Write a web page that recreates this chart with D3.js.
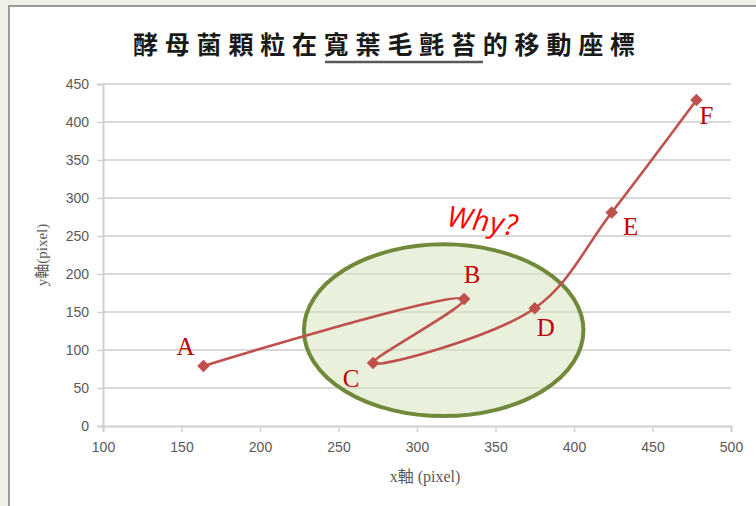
<!DOCTYPE html>
<html lang='zh-Hant'>
	<head>
		<meta charset='utf-8'>
		<title>酵母菌顆粒在寬葉毛氈苔的移動座標</title>
		<script type='text/javascript' src='https://cdn.jsdelivr.net/npm/d3@7/dist/d3.min.js'></script>
		<style>
			body { margin: 0; background: #eff1e9; }
			svg { display: block; }
		</style>
	</head>
	<body>
		<script type='text/javascript'>
		// data
		var point_names = ['A', 'B', 'C', 'D', 'E', 'F'];
		var x_values = [164, 330, 272, 375, 424, 478];
		var y_values = [79, 167, 83, 155, 281, 429];
		var x_ticks = [100, 150, 200, 250, 300, 350, 400, 450, 500];
		var y_ticks = [0, 50, 100, 150, 200, 250, 300, 350, 400, 450];
		// annotation ellipse in data units: centre x, centre y, half width, half height
		var ellipse_data = [317, 126, 89, 113];

		{
			var width = 756, height = 506;
			var svg_elem = d3.select('body').append('svg').attr('width', width).attr('height', height);

			// white chart panel with grey edge
			svg_elem.append('rect')
				.attr('x', 9).attr('y', 6).attr('width', width).attr('height', height)
				.attr('fill', '#ffffff').attr('stroke', '#9a9a9a').attr('stroke-width', 2);

			var x_scale = d3.scaleLinear().domain([100, 500]).range([103, 731]);
			var y_scale = d3.scaleLinear().domain([0, 450]).range([426, 84]);

			// gridlines
			svg_elem.append('g').selectAll('line').data(y_ticks.slice(1)).enter().append('line')
				.attr('x1', x_scale(100)).attr('x2', x_scale(500))
				.attr('y1', d => y_scale(d)).attr('y2', d => y_scale(d))
				.attr('stroke', '#d9d9d9').attr('stroke-width', 2);

			// left axis
			var left_axis = svg_elem.append('g')
				.attr('transform', 'translate(' + x_scale(100) + ',0)')
				.call(d3.axisLeft(y_scale).tickValues(y_ticks).tickSize(6).tickPadding(8));
			// bottom axis
			var bottom_axis = svg_elem.append('g')
				.attr('transform', 'translate(0,' + y_scale(0) + ')')
				.call(d3.axisBottom(x_scale).tickValues(x_ticks).tickSize(6).tickPadding(10));

			[left_axis, bottom_axis].forEach(function(ax) {
				ax.selectAll('path').attr('stroke', '#d0d0d0').attr('stroke-width', 2);
				ax.selectAll('line').attr('stroke', '#d0d0d0').attr('stroke-width', 1.5);
				ax.selectAll('text')
					.attr('fill', '#595959')
					.style('font-family', '"Liberation Sans Narrow", "Liberation Sans", sans-serif')
					.style('font-size', '14px');
			});

			// annotation ellipse
			svg_elem.append('ellipse')
				.attr('cx', x_scale(ellipse_data[0])).attr('cy', y_scale(ellipse_data[1]))
				.attr('rx', x_scale(100 + ellipse_data[2]) - x_scale(100))
				.attr('ry', y_scale(0) - y_scale(ellipse_data[3]))
				.attr('fill', '#d7e4bd').attr('fill-opacity', 0.55)
				.attr('stroke', '#71893a').attr('stroke-width', 4);

			var points = x_values.map((v, i) => [v, y_values[i]]);

			// smoothed series line
			var line = d3.line()
				.x(d => x_scale(d[0])).y(d => y_scale(d[1]))
				.curve(d3.curveCatmullRom.alpha(0.5));
			svg_elem.append('path')
				.attr('d', line(points))
				.attr('fill', 'none')
				.attr('stroke', '#c0504d')
				.attr('stroke-width', 2.6);

			// diamond markers
			svg_elem.append('g').selectAll('path').data(points).enter().append('path')
				.attr('d', d3.symbol().type(d3.symbolDiamond2).size(100))
				.attr('transform', d => 'translate(' + x_scale(d[0]) + ',' + y_scale(d[1]) + ')')
				.attr('fill', '#c0504d');

			// point letters
			var label_offsets = [[-18, -11], [8, -16], [-22, 24], [11, 28], [19, 23], [10, 24]];
			svg_elem.append('g').selectAll('text').data(points).enter().append('text')
				.attr('x', (d, i) => x_scale(d[0]) + label_offsets[i][0])
				.attr('y', (d, i) => y_scale(d[1]) + label_offsets[i][1])
				.attr('text-anchor', 'middle')
				.attr('fill', '#c00000')
				.style('font-family', '"Liberation Serif", "DejaVu Serif", serif')
				.style('font-size', '25px')
				.text((d, i) => point_names[i]);

			// Why? note
			svg_elem.append('text')
				.attr('transform', 'translate(446,226) rotate(8)')
				.attr('fill', '#ff0000')
				.style('font-family', '"Open Sans", "Liberation Sans", sans-serif')
				.style('font-style', 'italic')
				.style('font-size', '29px')
				.style('letter-spacing', '1px')
				.text('Why?');

			// title
			svg_elem.append('text')
				.attr('x', 133).attr('y', 54)
				.attr('fill', '#1a1a1a')
				.style('font-family', '"Noto Sans CJK TC", sans-serif')
				.style('font-weight', 'bold')
				.style('font-size', '25px')
				.style('letter-spacing', '6.8px')
				.text('酵母菌顆粒在寬葉毛氈苔的移動座標');
			svg_elem.append('line')
				.attr('x1', 325).attr('x2', 483).attr('y1', 62).attr('y2', 62)
				.attr('stroke', '#595959').attr('stroke-width', 2.5);

			// axis titles
			svg_elem.append('text')
				.attr('x', 425).attr('y', 482)
				.attr('text-anchor', 'middle')
				.attr('fill', '#595959')
				.style('font-family', '"Liberation Serif", "Noto Sans CJK TC", serif')
				.style('font-size', '16px')
				.text('x軸 (pixel)');
			svg_elem.append('text')
				.attr('transform', 'translate(47,255) rotate(-90)')
				.attr('text-anchor', 'middle')
				.attr('fill', '#595959')
				.style('font-family', '"Liberation Serif", "Noto Sans CJK TC", serif')
				.style('font-size', '15px')
				.text('y軸(pixel)');
		}
		</script>
	</body>
</html>
